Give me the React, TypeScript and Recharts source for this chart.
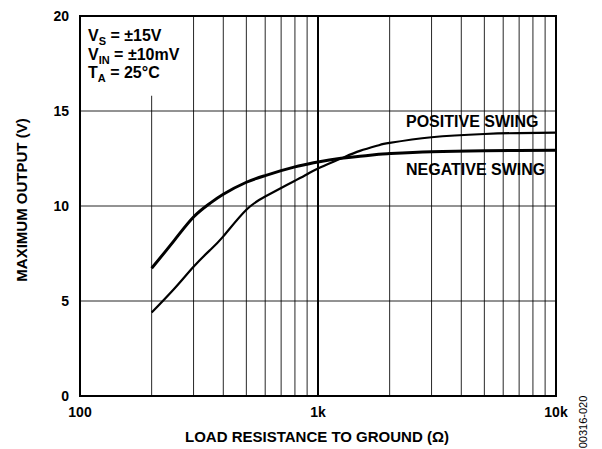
import React from 'react';
import {
  LineChart,
  Line,
  XAxis,
  YAxis,
  CartesianGrid,
  ReferenceArea,
  ReferenceLine,
} from 'recharts';

// load resistance (ohms) where the curves were read
const resistance = [200, 250, 300, 350, 400, 500, 600, 700, 800, 900, 1000, 1250, 1500, 1800, 2000, 3000, 5000, 7000, 10000];
// max output, volts
const negativeSwing = [6.72, 8.22, 9.42, 10.12, 10.62, 11.25, 11.6, 11.86, 12.06, 12.2, 12.32, 12.51, 12.62, 12.72, 12.76, 12.86, 12.91, 12.92, 12.93];
const positiveSwing = [4.39, 5.67, 6.8, 7.65, 8.4, 9.8, 10.5, 10.95, 11.33, 11.67, 11.98, 12.5, 12.9, 13.2, 13.32, 13.62, 13.79, 13.84, 13.86];

const xTicks = [100, 200, 300, 400, 500, 600, 700, 800, 900, 1000, 2000, 3000, 4000, 5000, 6000, 7000, 8000, 9000, 10000];
const xLabels: Record<number, string> = { 100: '100', 1000: '1k', 10000: '10k' };
const yTicks = [0, 5, 10, 15, 20];

const data = resistance.map((r, i) => ({
  r,
  neg: negativeSwing[i],
  pos: positiveSwing[i],
}));

const FONT = '"Liberation Sans", Arial, Helvetica, sans-serif';

const XTick = ({ x, y, payload }: any) => {
  const label = xLabels[payload.value];
  if (!label) return null;
  return (
    <text x={x} y={y + 13} textAnchor="middle" fontFamily={FONT} fontWeight="bold" fontSize={14} fill="#000">
      {label}
    </text>
  );
};

const YTick = ({ x, y, payload }: any) => (
  <text x={x - 3} y={y + 5} textAnchor="end" fontFamily={FONT} fontWeight="bold" fontSize={14} fill="#000">
    {payload.value}
  </text>
);

export default function App() {
  return (
    <div style={{ position: 'absolute', left: 0, top: 0, width: 602, height: 449, background: '#fff' }}>
      <LineChart width={602} height={449} data={data} margin={{ top: 16, right: 46, bottom: 0, left: 0 }}>
        <CartesianGrid stroke="#000" strokeWidth={1} strokeOpacity={0.85} />
        <XAxis
          dataKey="r"
          type="number"
          scale="log"
          domain={[100, 10000]}
          ticks={xTicks}
          interval={0}
          tick={<XTick />}
          tickLine={false}
          axisLine={false}
          height={53}
          allowDataOverflow
        />
        <YAxis
          type="number"
          domain={[0, 20]}
          ticks={yTicks}
          interval={0}
          tick={<YTick />}
          tickLine={false}
          axisLine={false}
          width={80}
        />
        {/* white patch behind the conditions text */}
        <ReferenceArea x1={100} x2={280} y1={15.8} y2={20} fill="#fff" fillOpacity={1} stroke="none" />
        <ReferenceLine x={1000} stroke="#000" strokeWidth={2} />
        <ReferenceArea x1={100} x2={10000} y1={0} y2={20} fill="none" stroke="#000" strokeWidth={2} />
        <Line dataKey="neg" type="natural" stroke="#000" strokeWidth={3} dot={false} isAnimationActive={false} />
        <Line dataKey="pos" type="natural" stroke="#000" strokeWidth={2.2} dot={false} isAnimationActive={false} />
      </LineChart>
      <svg
        width={602}
        height={449}
        style={{ position: 'absolute', left: 0, top: 0, pointerEvents: 'none' }}
        fontFamily={FONT}
        fontWeight="bold"
        fill="#000"
      >
        <text x={88} y={41} fontSize={16}>
          V<tspan fontSize={11} dy={4}>S</tspan>
          <tspan dy={-4}> = ±15V</tspan>
        </text>
        <text x={88} y={59.5} fontSize={16}>
          V<tspan fontSize={11} dy={4}>IN</tspan>
          <tspan dy={-4}> = ±10mV</tspan>
        </text>
        <text x={88} y={78} fontSize={16}>
          T<tspan fontSize={11} dy={4}>A</tspan>
          <tspan dy={-4}> = 25°C</tspan>
        </text>
        <text x={406} y={127} fontSize={16}>POSITIVE SWING</text>
        <text x={406} y={175} fontSize={16}>NEGATIVE SWING</text>
        <text x={317} y={442} fontSize={15} textAnchor="middle">LOAD RESISTANCE TO GROUND (Ω)</text>
        <text transform="translate(27,200) rotate(-90)" fontSize={15} textAnchor="middle">MAXIMUM OUTPUT (V)</text>
        <text transform="translate(587,422) rotate(-90)" fontSize={11} fontWeight="normal" textAnchor="middle">00316-020</text>
      </svg>
    </div>
  );
}
